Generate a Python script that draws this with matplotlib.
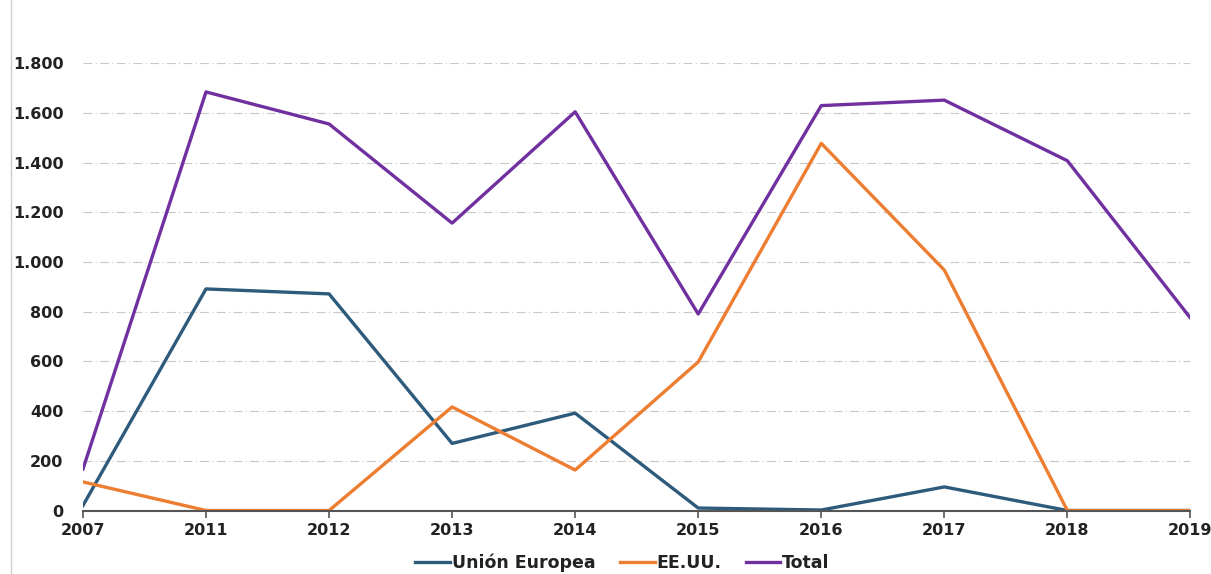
import matplotlib.pyplot as plt
from matplotlib.ticker import FuncFormatter
from matplotlib.lines import Line2D

years = ['2007', '2011', '2012', '2013', '2014', '2015', '2016', '2017', '2018', '2019']
ue = [20, 892, 872, 270, 392, 10, 2, 95, 0, 0]
eeuu = [115, 0, 0, 417, 163, 598, 1478, 968, 0, 0]
total = [167, 1685, 1556, 1157, 1605, 791, 1630, 1652, 1408, 775]

fig = plt.figure(figsize=(12.11, 5.74), dpi=100)
ax = fig.add_axes([0.0685, 0.1106, 0.9145, 0.779])

x = range(len(years))
ax.plot(x, ue, color='#2E5B7C', lw=2.4, label='Unión Europea')
ax.plot(x, eeuu, color='#ED7D31', lw=2.4, label='EE.UU.')
ax.plot(x, total, color='#7030A0', lw=2.4, label='Total')

ax.set_xlim(0, 9)
ax.set_ylim(0, 1800)
ax.set_yticks(range(0, 1801, 200))
ax.yaxis.set_major_formatter(FuncFormatter(lambda v, p: f'{int(v):,}'.replace(',', '.')))
ax.set_xticks(list(x))
ax.set_xticklabels(years)

for s in ['top', 'right', 'left']:
    ax.spines[s].set_visible(False)
ax.spines['bottom'].set_color('#555555')
ax.spines['bottom'].set_linewidth(1.5)

ax.grid(axis='y', color='#C8C8C8', linestyle=(0, (8, 3, 1, 3)), lw=0.8)
ax.set_axisbelow(True)
ax.tick_params(axis='y', length=0, pad=14, labelsize=11.5)
ax.tick_params(axis='x', length=5, width=1.2, color='#555555', pad=4, labelsize=11.5)
for lbl in ax.get_xticklabels() + ax.get_yticklabels():
    lbl.set_fontweight('bold')
    lbl.set_color('#222222')
for lbl in ax.get_xticklabels():
    lbl.set_clip_on(False)

leg = fig.legend(loc='center', bbox_to_anchor=(0.514, 0.02), ncol=3, frameon=False,
                 prop={'weight': 'bold', 'size': 12.5}, handlelength=2.0,
                 handletextpad=0.1, columnspacing=1.4, borderpad=0)
for t in leg.get_texts():
    t.set_color('#222222')

# thin border line on the left edge of the image
fig.add_artist(Line2D([11 / 1211, 11 / 1211], [0, 1], color='#CCCCCC', lw=1))

fig.savefig('out.png', dpi=100)
